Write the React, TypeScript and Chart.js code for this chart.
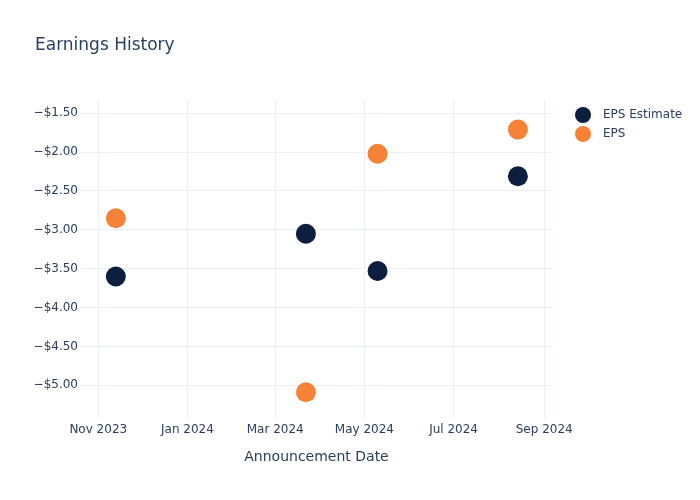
import React, { useEffect, useRef } from "react";
import { Chart, registerables } from "chart.js";

Chart.register(...registerables);

const announcementDates = ["2023-11-13", "2024-03-22", "2024-05-10", "2024-08-14"];
const epsEstimate = [-3.6, -3.05, -3.53, -2.31];
const epsActual = [-2.85, -5.09, -2.02, -1.71];

const xTickDates = ["2023-11-01", "2024-01-01", "2024-03-01", "2024-05-01", "2024-07-01", "2024-09-01"];
const xTickLabels = ["Nov 2023", "Jan 2024", "Mar 2024", "May 2024", "Jul 2024", "Sep 2024"];
const yTickValues = [-1.5, -2, -2.5, -3, -3.5, -4, -4.5, -5];
const yTickLabels = ["−$1.50", "−$2.00", "−$2.50", "−$3.00", "−$3.50", "−$4.00", "−$4.50", "−$5.00"];

const seriesNames = ["EPS Estimate", "EPS"];
const seriesColors = ["#0c1f3f", "#f58236"];

const toMs = (s: string) => {
  const [y, m, d] = s.split("-").map(Number);
  return Date.UTC(y, m - 1, d);
};
const DAY = 86400000;

const TEXT_COLOR = "#2a3f5f";
const FONT = "'DejaVu Sans', Verdana, sans-serif";

export default function App() {
  const ref = useRef<HTMLCanvasElement | null>(null);

  useEffect(() => {
    document.body.style.margin = "0";
    if (!ref.current) return;

    const overlay = {
      id: "overlay",
      afterDraw(chart: any) {
        const ctx = chart.ctx;
        ctx.save();
        ctx.fillStyle = TEXT_COLOR;
        ctx.font = `17px ${FONT}`;
        ctx.textBaseline = "alphabetic";
        ctx.textAlign = "left";
        ctx.fillText("Earnings History", 35, 50);
        ctx.font = `12px ${FONT}`;
        ctx.textBaseline = "middle";
        seriesNames.forEach((name, i) => {
          const cy = 115 + i * 19;
          ctx.beginPath();
          ctx.fillStyle = seriesColors[i];
          ctx.arc(583, cy, 8, 0, Math.PI * 2);
          ctx.fill();
          ctx.fillStyle = TEXT_COLOR;
          ctx.fillText(name, 603, cy);
        });
        ctx.restore();
      },
    };

    const xTicksMs = xTickDates.map(toMs);

    const chart = new Chart(ref.current, {
      type: "scatter",
      data: {
        datasets: [
          {
            label: seriesNames[0],
            data: announcementDates.map((d, i) => ({ x: toMs(d), y: epsEstimate[i] })),
            backgroundColor: seriesColors[0],
            borderWidth: 0,
            pointRadius: 10,
            pointHoverRadius: 10,
          },
          {
            label: seriesNames[1],
            data: announcementDates.map((d, i) => ({ x: toMs(d), y: epsActual[i] })),
            backgroundColor: seriesColors[1],
            borderWidth: 0,
            pointRadius: 10,
            pointHoverRadius: 10,
          },
        ],
      },
      options: {
        animation: false,
        responsive: false,
        layout: { padding: { top: 100, right: 147, left: 0, bottom: 0 } },
        plugins: {
          legend: { display: false },
          title: { display: false },
          tooltip: { enabled: false },
        },
        scales: {
          x: {
            type: "linear",
            min: toMs("2023-11-01") - 12.5 * DAY,
            max: toMs("2024-09-01") + 6 * DAY,
            afterFit: (s: any) => {
              s.height = 81;
            },
            afterBuildTicks: (s: any) => {
              s.ticks = xTicksMs.map((v) => ({ value: v }));
            },
            ticks: {
              autoSkip: false,
              maxRotation: 0,
              padding: 4,
              color: TEXT_COLOR,
              font: { family: FONT, size: 12 },
              callback: (v: any) => {
                const i = xTicksMs.indexOf(Number(v));
                return i >= 0 ? xTickLabels[i] : "";
              },
            },
            grid: { color: "#ebf0f8", drawTicks: false, lineWidth: 1 },
            border: { display: false },
            title: {
              display: true,
              text: "Announcement Date",
              color: TEXT_COLOR,
              font: { family: FONT, size: 14 },
              padding: { top: 0, bottom: 34 },
            },
          },
          y: {
            type: "linear",
            min: -5.434,
            max: -1.329,
            afterFit: (s: any) => {
              s.width = 80;
            },
            afterBuildTicks: (s: any) => {
              s.ticks = yTickValues.map((v) => ({ value: v }));
            },
            ticks: {
              autoSkip: false,
              padding: 2,
              color: TEXT_COLOR,
              font: { family: FONT, size: 12 },
              callback: (v: any) => {
                const i = yTickValues.indexOf(Number(v));
                return i >= 0 ? yTickLabels[i] : "";
              },
            },
            grid: { color: "#ebf0f8", drawTicks: false, lineWidth: 1 },
            border: { display: false },
          },
        },
      },
      plugins: [overlay],
    } as any);

    return () => chart.destroy();
  }, []);

  return (
    <div style={{ position: "relative", width: 700, height: 500, background: "#fff" }}>
      <canvas ref={ref} width={700} height={500} style={{ width: 700, height: 500, display: "block" }} />
    </div>
  );
}
